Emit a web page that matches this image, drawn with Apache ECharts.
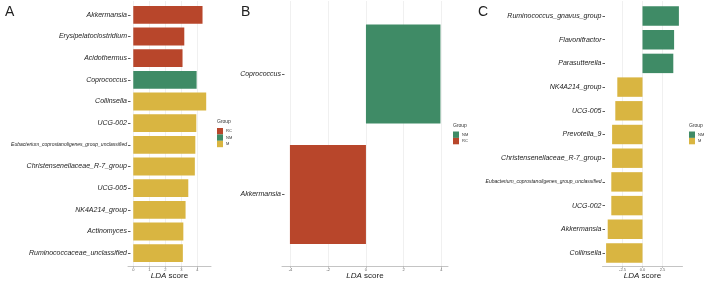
<!DOCTYPE html>
<html>
<head>
<meta charset="utf-8">
<script src="https://cdn.jsdelivr.net/npm/echarts@6/dist/echarts.min.js"></script>
<style>
    html, body { margin: 0; padding: 0; background: #fff; }
    #main { width: 708px; height: 283px; }
</style>
</head>
<body>
<div id="main"></div>
<script>
// panel A: all three groups
var a_taxa = ['Akkermansia', 'Erysipelatoclostridium', 'Acidothermus', 'Coprococcus', 'Collinsella', 'UCG-002',
    'Eubacterium_coprostanoligenes_group_unclassified', 'Christensenellaceae_R-7_group', 'UCG-005',
    'NK4A214_group', 'Actinomyces', 'Ruminococcaceae_unclassified'];
var a_lda = [4.33, 3.19, 3.08, 3.96, 4.56, 3.94, 3.88, 3.85, 3.44, 3.27, 3.13, 3.1];
var a_group = ['RC', 'RC', 'RC', 'NM', 'M', 'M', 'M', 'M', 'M', 'M', 'M', 'M'];
var a_groups = ['RC', 'NM', 'M'];
var a_ticks = [0, 1, 2, 3, 4];

// panel B: NM vs RC
var b_taxa = ['Coprococcus', 'Akkermansia'];
var b_lda = [3.95, -4.03];
var b_group = ['NM', 'RC'];
var b_groups = ['NM', 'RC'];
var b_ticks = [-4, -2, 0, 2, 4];

// panel C: NM vs M
var c_taxa = ['Ruminococcus_gnavus_group', 'Flavonifractor', 'Parasutterella', 'NK4A214_group', 'UCG-005',
    'Prevotella_9', 'Christensenellaceae_R-7_group', 'Eubacterium_coprostanoligenes_group_unclassified',
    'UCG-002', 'Akkermansia', 'Collinsella'];
var c_lda = [4.55, 3.95, 3.85, -3.15, -3.4, -3.8, -3.8, -3.9, -3.9, -4.35, -4.55];
var c_group = ['NM', 'NM', 'NM', 'M', 'M', 'M', 'M', 'M', 'M', 'M', 'M'];
var c_groups = ['NM', 'M'];
var c_ticks = [-2.5, 0, 2.5];

var COLORS = { RC: '#B8462B', NM: '#3F8B66', M: '#D9B541' };
var FONT = '"Liberation Sans", Arial, sans-serif';
var PANEL_TOP = 1, PANEL_BOTTOM = 266;

var CHART = {
    panels: [
        { taxa: a_taxa, lda: a_lda, group: a_group, groups: a_groups, ticks: a_ticks,
          grid: { left: 128, width: 83, top: 4, height: 260 }, min: -0.33, max: 4.86, digits: 0,
          legend: { left: 217, top: 128 }, title: { letter: 'A', x: 5, group_x: 217, group_y: 119 } },
        { taxa: b_taxa, lda: b_lda, group: b_group, groups: b_groups, ticks: b_ticks,
          grid: { left: 282, width: 166, top: 13.75, height: 241 }, min: -4.45, max: 4.35, digits: 0,
          legend: { left: 453, top: 131.5 }, title: { letter: 'B', x: 241, group_x: 453, group_y: 123 } },
        { taxa: c_taxa, lda: c_lda, group: c_group, groups: c_groups, ticks: c_ticks,
          grid: { left: 602.5, width: 80, top: 4.15, height: 260.7 }, min: -5, max: 5, digits: 1,
          legend: { left: 689, top: 131.5 }, title: { letter: 'C', x: 478, group_x: 689, group_y: 123 } }
    ],
    init: function(){
        var myChart = echarts.init(document.getElementById('main'), null, { renderer: 'canvas' });
        myChart.setOption(this.build_option());
    },
    split_by_group: function(values, groups, name){
        return values.map(function(v, i){ return groups[i] === name ? v : '-'; });
    },
    build_option: function(){
        var _this = this;
        var option = { animation: false, backgroundColor: '#fff', textStyle: { fontFamily: FONT },
            title: [], grid: [], xAxis: [], yAxis: [], series: [], legend: [] };
        var n = _this.panels.length;

        _this.panels.forEach(function(p, k){
            // bar grid (index k) + full-height panel grid behind it (index n + k) for the axis and grid lines
            option.grid[k] = { left: p.grid.left, width: p.grid.width, top: p.grid.top, height: p.grid.height,
                containLabel: false, outerBoundsMode: 'none' };
            option.grid[n + k] = { left: p.grid.left, width: p.grid.width, top: PANEL_TOP, height: PANEL_BOTTOM - PANEL_TOP,
                containLabel: false, outerBoundsMode: 'none', z: 0 };

            option.xAxis[k] = {
                gridIndex: k, type: 'value', min: p.min, max: p.max,
                axisLine: { show: false }, axisTick: { show: false }, axisLabel: { show: false },
                splitLine: { show: false }
            };
            option.xAxis[n + k] = {
                gridIndex: n + k, type: 'value', min: p.min, max: p.max,
                name: '{i|LDA} score', nameLocation: 'middle', nameGap: 6, nameMoveOverlap: false,
                nameTextStyle: { fontSize: 8, color: '#222', fontFamily: FONT,
                    rich: { i: { fontSize: 8, fontStyle: 'italic', color: '#222', fontFamily: FONT } } },
                axisLine: { show: true, lineStyle: { color: '#b5b5b5', width: 0.8 } },
                axisTick: { show: true, length: 2, customValues: p.ticks, lineStyle: { color: '#b5b5b5', width: 0.8 } },
                axisLabel: { customValues: p.ticks, fontSize: 4, color: '#666', margin: 2,
                    formatter: function(v){ return v.toFixed(p.digits); } },
                splitLine: { show: true, lineStyle: { color: '#ececec', width: 0.8 } }
            };

            option.yAxis[k] = {
                gridIndex: k, type: 'category', data: p.taxa, inverse: true,
                axisLine: { show: false, onZero: false },
                axisTick: { show: true, inside: true, alignWithLabel: true, length: 2.5, lineStyle: { color: '#333', width: 0.8 } },
                axisLabel: { fontSize: 7, fontStyle: 'italic', color: '#222', margin: 1, interval: 0,
                    formatter: function(v){ return v.length > 40 ? '{s|' + v + '}' : v; },
                    rich: { s: { fontSize: 5, fontStyle: 'italic', color: '#222', fontFamily: FONT } } },
                splitLine: { show: false }
            };
            option.yAxis[n + k] = {
                gridIndex: n + k, type: 'value', min: 0, max: 1, show: false
            };

            p.groups.forEach(function(g){
                option.series.push({
                    name: g, type: 'bar', xAxisIndex: k, yAxisIndex: k, stack: 'panel' + k,
                    barWidth: '82%', itemStyle: { color: COLORS[g] }, z: 3,
                    data: _this.split_by_group(p.lda, p.group, g)
                });
            });

            option.legend.push({
                data: p.groups, orient: 'vertical', left: p.legend.left, top: p.legend.top,
                itemWidth: 6, itemHeight: 6.4, itemGap: 0, padding: 0, icon: 'rect',
                selectedMode: false, textStyle: { fontSize: 4, color: '#333', padding: [0, 0, 0, -2] }
            });

            option.title.push({ text: p.title.letter, left: p.title.x, top: 5, padding: 0,
                textStyle: { fontSize: 14, fontWeight: 'normal', color: '#222', fontFamily: FONT } });
            option.title.push({ text: 'Group', left: p.title.group_x, top: p.title.group_y, padding: 0,
                textStyle: { fontSize: 5, fontWeight: 'normal', color: '#333', fontFamily: FONT } });
        });
        return option;
    }
};

CHART.init();
</script>
</body>
</html>
